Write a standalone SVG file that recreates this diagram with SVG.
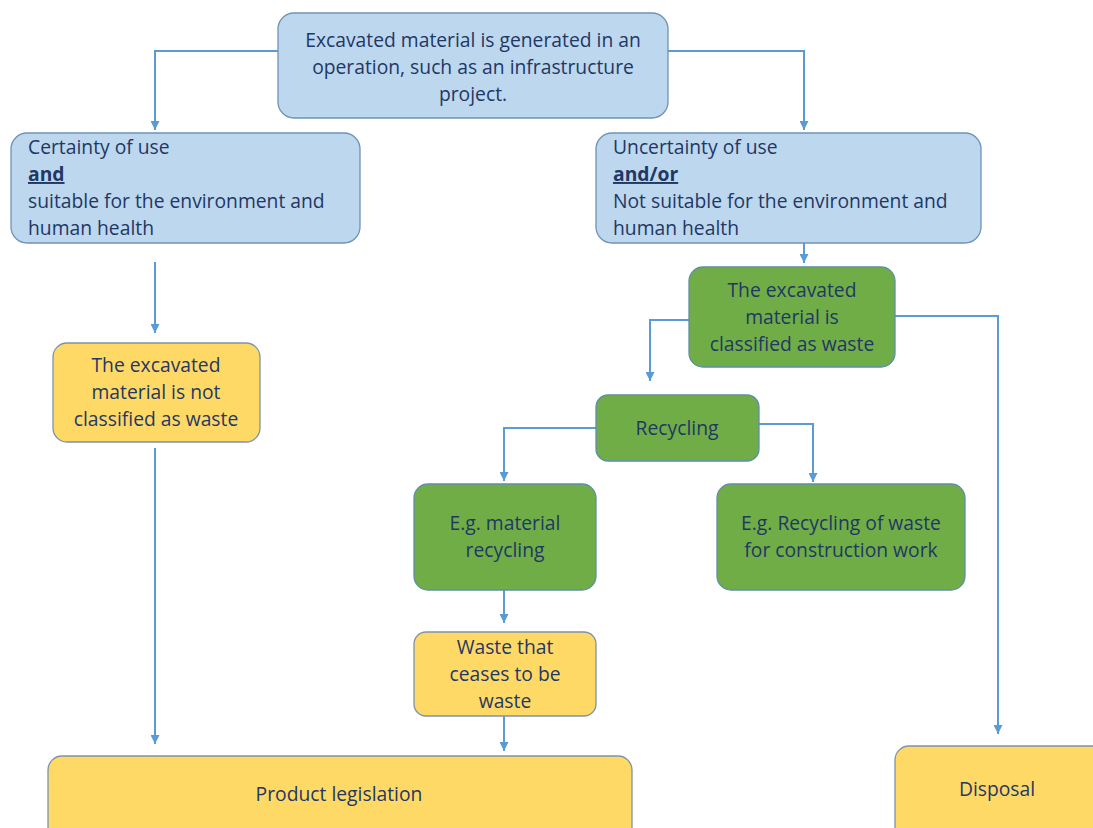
<svg xmlns="http://www.w3.org/2000/svg" width="1093" height="828" viewBox="0 0 1093 828">
  <defs>
    <marker id="arrow" viewBox="0 0 10 10" refX="10" refY="5" markerWidth="10" markerHeight="9" orient="auto" markerUnits="userSpaceOnUse">
      <path d="M0,0 L10,5 L0,10 z" fill="#5B9BD5"/>
    </marker>
    <style>
      .blue { fill: #BDD7EE; stroke: #6F92B6; stroke-width: 1.3; }
      .green { fill: #70AD47; stroke: #5F8FA8; stroke-width: 1.3; }
      .yellow { fill: #FFD966; stroke: #7D93A8; stroke-width: 1.3; }
      .t { font-family: "Open Sans", "Noto Sans", sans-serif; font-size: 19.3px; fill: #1F3864; }
      .c { text-anchor: middle; }
      .b { font-weight: bold; text-decoration: underline; }
      .conn path { fill: none; stroke: #5B9BD5; stroke-width: 2; marker-end: url(#arrow); }
    </style>
  </defs>
  <rect width="1093" height="828" fill="#FFFFFF"/>

  <g class="conn" id="connectors">
    <path d="M278,51 H155 V130"/>
    <path d="M668,51 H804 V130"/>
    <path d="M804,240 V263"/>
    <path d="M155,262 V333"/>
    <path d="M155,448 V744"/>
    <path d="M689,320 H650 V381"/>
    <path d="M895,316 H998 V734"/>
    <path d="M596,428 H504 V481"/>
    <path d="M759,424 H813 V482"/>
    <path d="M504,572 V623"/>
    <path d="M504,716 V751"/>
  </g>

  <g id="start">
    <rect class="blue" x="278" y="13" width="390" height="105" rx="16"/>
    <text class="t c" x="473" y="47">Excavated material is generated in an</text>
    <text class="t c" x="473" y="74">operation, such as an infrastructure</text>
    <text class="t c" x="473" y="101">project.</text>
  </g>

  <g id="certainty">
    <rect class="blue" x="11" y="133" width="349" height="110" rx="16"/>
    <text class="t" x="28" y="154">Certainty of use</text>
    <text class="t b" x="28" y="181">and</text>
    <text class="t" x="28" y="208">suitable for the environment and</text>
    <text class="t" x="28" y="235">human health</text>
  </g>

  <g id="uncertainty">
    <rect class="blue" x="596" y="133" width="385" height="110" rx="16"/>
    <text class="t" x="613" y="154">Uncertainty of use</text>
    <text class="t b" x="613" y="181">and/or</text>
    <text class="t" x="613" y="208">Not suitable for the environment and</text>
    <text class="t" x="613" y="235">human health</text>
  </g>

  <g id="not-waste">
    <rect class="yellow" x="53" y="343" width="207" height="99" rx="14"/>
    <text class="t c" x="156" y="372">The excavated</text>
    <text class="t c" x="156" y="399">material is not</text>
    <text class="t c" x="156" y="426">classified as waste</text>
  </g>

  <g id="waste">
    <rect class="green" x="689" y="267" width="206" height="100" rx="14"/>
    <text class="t c" x="792" y="297">The excavated</text>
    <text class="t c" x="792" y="324">material is</text>
    <text class="t c" x="792" y="351">classified as waste</text>
  </g>

  <g id="recycling">
    <rect class="green" x="596" y="395" width="163" height="66" rx="12"/>
    <text class="t c" x="677" y="435">Recycling</text>
  </g>

  <g id="material-recycling">
    <rect class="green" x="414" y="484" width="182" height="106" rx="14"/>
    <text class="t c" x="505" y="530">E.g. material</text>
    <text class="t c" x="505" y="557">recycling</text>
  </g>

  <g id="construction-recycling">
    <rect class="green" x="717" y="484" width="248" height="106" rx="14"/>
    <text class="t c" x="841" y="530">E.g. Recycling of waste</text>
    <text class="t c" x="841" y="557">for construction work</text>
  </g>

  <g id="end-of-waste">
    <rect class="yellow" x="414" y="632" width="182" height="84" rx="12"/>
    <text class="t c" x="505" y="654">Waste that</text>
    <text class="t c" x="505" y="681">ceases to be</text>
    <text class="t c" x="505" y="708">waste</text>
  </g>

  <g id="product-legislation">
    <rect class="yellow" x="48" y="756" width="584" height="90" rx="14"/>
    <text class="t c" x="339" y="801">Product legislation</text>
  </g>

  <g id="disposal">
    <rect class="yellow" x="895" y="746" width="220" height="100" rx="14"/>
    <text class="t c" x="997" y="796">Disposal</text>
  </g>
</svg>
